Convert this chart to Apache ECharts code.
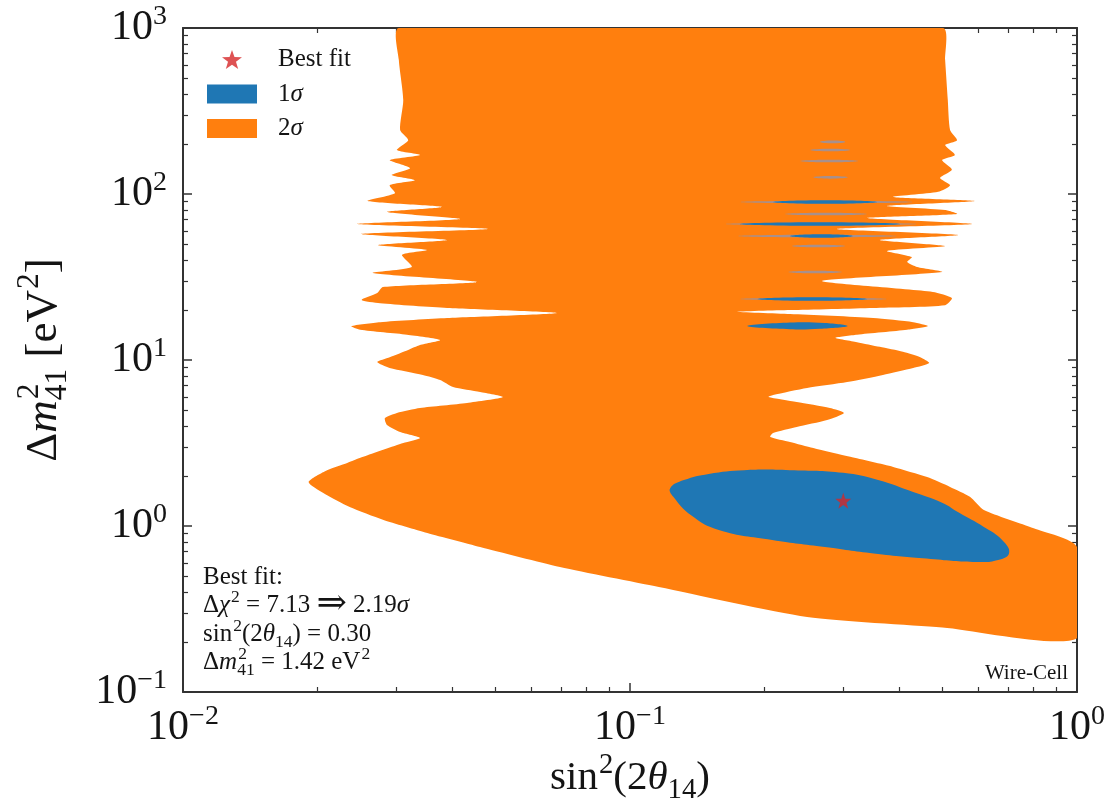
<!DOCTYPE html>
<html><head><meta charset="utf-8">
<script src="https://cdn.jsdelivr.net/npm/echarts@6/dist/echarts.min.js"></script>
<style>html,body{margin:0;padding:0;background:#fff}#c{width:1113px;height:810px}</style>
</head><body><div id="c"></div>
<script>
// ---------------- data ----------------
const xRange = [0.01, 1];
const yRange = [0.1, 1000];
// 2 sigma allowed region outline [sin^2(2theta14), dm41^2]
const orange2sigma = [
 [0.0304,1000],[0.501,1000],
 [0.507,641],[0.514,368],[0.520,243],[0.539,211],[0.507,197],[0.533,172],[0.499,160],[0.525,140],[0.494,125],[0.520,113],[0.489,103],
 [0.388,95.9],[0.591,90.7],[0.376,84.7],[0.507,80.1],[0.539,75.8],[0.339,71.7],[0.582,66.0],[0.290,61.6],[0.542,56.7],[0.362,52.9],
 [0.507,48.6],[0.376,45.4],[0.427,41.7],[0.417,38.9],[0.439,36.3],[0.499,33.9],[0.269,29.9],[0.476,25.7],[0.525,23.6],[0.507,21.4],
 [0.350,20.6],[0.228,20.0],[0.173,19.5],[0.228,18.9],[0.350,17.9],[0.430,16.9],[0.464,16.0],[0.417,15.2],[0.322,14.2],[0.288,13.6],
 [0.322,12.8],[0.362,12.0],[0.408,11.2],[0.446,10.4],[0.467,9.59],[0.430,8.95],[0.368,8.13],[0.306,7.36],[0.249,6.78],[0.209,6.15],
 [0.204,5.98],[0.236,5.58],[0.280,5.14],[0.301,4.80],[0.276,4.35],[0.236,3.95],[0.209,3.63],[0.206,3.44],[0.228,3.21],[0.257,2.95],
 [0.311,2.61],[0.388,2.27],[0.462,1.97],[0.520,1.72],[0.576,1.50],[0.619,1.25],[0.80,0.97],[1.0,0.747],
 [1.0,0.211],[0.50,0.245],[0.249,0.283],[0.116,0.429],[0.0697,0.566],[0.0462,0.747],[0.0352,0.907],[0.0280,1.09],[0.0236,1.30],[0.0206,1.58],
 [0.0191,1.84],[0.0210,2.17],[0.0233,2.40],[0.0253,2.61],[0.0311,3.16],[0.0339,3.39],[0.0306,3.68],[0.0286,4.06],[0.0283,4.47],
 [0.0301,4.80],[0.0339,5.14],[0.0432,5.51],[0.0520,5.98],[0.0462,6.42],[0.0402,6.88],[0.0376,7.58],[0.0344,8.13],[0.0290,8.95],
 [0.0272,9.72],[0.0290,10.4],[0.0319,11.5],[0.0339,12.3],[0.0376,13.2],[0.0317,14.2],[0.0249,15.2],[0.0238,16.0],[0.0276,16.9],
 [0.0390,17.9],[0.0687,19.2],[0.0390,20.6],[0.0276,22.0],[0.0251,23.0],[0.0272,25.3],[0.0280,27.5],[0.0455,29.5],[0.0266,33.4],
 [0.0325,36.3],[0.0309,43.0],[0.0352,46.0],[0.0273,49.3],[0.0390,52.9],[0.0250,57.5],[0.0481,61.6],[0.0245,66.0],[0.0417,70.7],
 [0.0286,78.0],[0.0380,83.5],[0.0259,90.7],[0.0298,101],[0.0290,113],[0.0330,121],[0.0293,130],[0.0322,143],[0.0290,160],
 [0.0339,172],[0.0301,184],[0.0319,211],[0.0306,243],[0.0311,368],[0.0304,641]
];
// 1 sigma main island
const blue1sigma = [
 [0.123,1.69],[0.132,1.89],[0.150,2.06],[0.180,2.17],[0.228,2.17],[0.300,2.09],[0.359,1.89],[0.430,1.60],[0.499,1.38],
 [0.545,1.20],[0.619,0.986],[0.680,0.824],[0.705,0.688],[0.666,0.624],[0.597,0.607],[0.471,0.633],[0.359,0.678],
 [0.273,0.747],[0.208,0.824],[0.158,0.946],[0.137,1.16],[0.125,1.50]
];
// small 1 sigma island near 16 eV^2
const blueIsland = [[0.183,16.0],[0.228,16.8],[0.273,16.7],[0.307,16.0],[0.266,15.4],[0.228,15.3]];
// thin 1 sigma streaks [sin2 left, sin2 right, dm2]
const blueStreaks = [[0.193,0.339,23.3],[0.176,0.402,66.0],[0.228,0.315,55.9],[0.209,0.357,89.5]];
const faintStreaks = [
 [0.176,0.376,23.3],[0.163,0.439,66.0],[0.174,0.396,55.9],[0.176,0.430,89.5],
 [0.266,0.303,206],[0.253,0.311,184],[0.240,0.324,158],[0.257,0.307,126],
 [0.222,0.339,75.8],[0.230,0.303,48.6],[0.226,0.298,33.9]
];
const bestFit = [[0.30, 1.42]];
const legendNames = ['Best fit', '1σ', '2σ'];
const watermark = 'Wire-Cell';

// ---------------- styling ----------------
const FONT = '"Liberation Serif", "DejaVu Serif", serif';
const INK = '#141414';
const ORANGE = '#ff7f0e', BLUE = '#1f77b4', RED = '#d62728', FAINT = '#a8908c';
const STAR = 'path://M0,-10L2.35,-3.24L9.51,-3.09L3.8,1.24L5.88,8.09L0,4L-5.88,8.09L-3.8,1.24L-9.51,-3.09L-2.35,-3.24Z';

const mctx = document.createElement('canvas').getContext('2d');
function measure(t, size, italic) { mctx.font = (italic ? 'italic ' : '') + size + 'px ' + FONT; return mctx.measureText(t).width; }
function fontOf(size, italic) { return (italic ? 'italic ' : '') + size + 'px ' + FONT; }
// lay out a math-like line: baseline at y=0, starting at x=0
function mathLine(tokens, size) {
  const ss = size * 0.7; let x = 0; const out = [];
  const put = (t, sz, it, dx, base) => out.push({ type: 'text', x: dx, y: base - 0.34 * sz,
      style: { text: t, font: fontOf(sz, it), fill: INK, align: 'left', verticalAlign: 'middle' } });
  tokens.forEach(tk => {
    const k = tk[0];
    if (k === 'n' || k === 'i') { put(tk[1], size, k === 'i', x, 0); x += measure(tk[1], size, k === 'i'); }
    else if (k === 'w') { const bs = size * tk[2]; put(tk[1], bs, false, x, 0.25 * (bs - size)); x += measure(tk[1], bs); }
    else if (k === 'sup') { put(tk[1], ss, false, x + 1, -0.42 * size); x += measure(tk[1], ss) + 1; }
    else if (k === 'sub') { put(tk[1], ss, false, x, 0.2 * size); x += measure(tk[1], ss); }
    else if (k === 'supsub') { put(tk[1], ss, false, x + 1, -0.42 * size); put(tk[2], ss, false, x, 0.2 * size);
      x += Math.max(measure(tk[1], ss) + 1, measure(tk[2], ss)); }
  });
  return { out, width: x };
}
function mathGroup(tokens, size, x, y, opts) {
  opts = opts || {};
  const m = mathLine(tokens, size);
  const shift = opts.align === 'center' ? -m.width / 2 : (opts.align === 'right' ? -m.width : 0);
  m.out.forEach(e => e.x += shift);
  return { type: 'group', x, y, rotation: opts.rotation || 0, z: 100, children: m.out };
}

function expLabel(v) {
  const e = Math.round(Math.log10(v));
  return '{b|10}{s|' + (e < 0 ? '\u2212' + (-e) : e) + '}';
}
const labelRich = {
  b: { fontFamily: FONT, fontSize: 42, lineHeight: 50, color: INK },
  s: { fontFamily: FONT, fontSize: 28, lineHeight: 28, verticalAlign: 'top', color: INK }
};
const frameLine = { show: true, lineStyle: { color: '#333', width: 2 } };
const tick = { show: true, inside: true, length: 9, lineStyle: { color: '#333', width: 1.5 } };
const minor = { show: true, splitNumber: 9, length: 5, lineStyle: { color: '#333', width: 1.2 } };

function polygonSeries(name, pts, color, smooth, z) {
  return {
    type: 'custom', name, coordinateSystem: 'cartesian2d', silent: true, z, clip: true,
    data: pts, encode: { x: 0, y: 1 }, itemStyle: { color },
    renderItem(params, api) {
      if (params.dataIndex !== 0) return null;
      const cs = params.coordSys;
      return { type: 'polygon',
        shape: { points: pts.map(p => api.coord(p)), smooth,
                 smoothConstraint: [[cs.x, cs.y], [cs.x + cs.width, cs.y + cs.height]] },
        style: { fill: color } };
    }
  };
}
function streakSeries(name, rows, color, half, z) {
  return {
    type: 'custom', name, coordinateSystem: 'cartesian2d', silent: true, z, clip: true,
    data: rows, encode: { x: [0, 1], y: 2 },
    renderItem(params, api) {
      const a = api.coord([api.value(0), api.value(2)]);
      const b = api.coord([api.value(1), api.value(2)]);
      const mx = (a[0] + b[0]) / 2;
      return { type: 'polygon', shape: { points: [a, [mx, a[1] - half], b, [mx, a[1] + half]], smooth: 0.5 },
               style: { fill: color } };
    }
  };
}

const chart = echarts.init(document.getElementById('c'), null, { renderer: 'canvas' });
const option = {
  animation: false,
  backgroundColor: '#fff',
  grid: { left: 183, right: 36, top: 28, bottom: 118, containLabel: false, outerBoundsMode: 'none' },
  xAxis: [
    { type: 'log', logBase: 10, min: xRange[0], max: xRange[1], position: 'bottom',
      axisLine: frameLine, axisTick: tick, minorTick: minor, splitLine: { show: false },
      axisLabel: { show: true, margin: 11, formatter: expLabel, rich: labelRich, showMinLabel: true, showMaxLabel: true, hideOverlap: false } },
    { type: 'log', logBase: 10, min: xRange[0], max: xRange[1], position: 'top',
      axisLine: frameLine, axisTick: tick, minorTick: minor, splitLine: { show: false }, axisLabel: { show: false } }
  ],
  yAxis: [
    { type: 'log', logBase: 10, min: yRange[0], max: yRange[1], position: 'left',
      axisLine: frameLine, axisTick: tick, minorTick: minor, splitLine: { show: false },
      axisLabel: { show: true, margin: 16, formatter: expLabel, rich: labelRich, showMinLabel: true, showMaxLabel: true, hideOverlap: false } },
    { type: 'log', logBase: 10, min: yRange[0], max: yRange[1], position: 'right',
      axisLine: frameLine, axisTick: tick, minorTick: minor, splitLine: { show: false }, axisLabel: { show: false } }
  ],
  legend: {
    orient: 'vertical', left: 202, top: 42, itemWidth: 50, itemHeight: 19, itemGap: 9.5,
    selectedMode: false,
    data: [{ name: legendNames[0], icon: STAR }, { name: legendNames[1], icon: 'rect' }, { name: legendNames[2], icon: 'rect' }],
    formatter: n => n.indexOf('σ') >= 0 ? '{r|' + n.replace('σ', '') + '}{g|σ}' : '{r|' + n + '}',
    textStyle: { padding: [0, 0, 0, 16], lineHeight: 19, rich: {
      r: { fontFamily: FONT, fontSize: 25, lineHeight: 19, color: INK },
      g: { fontFamily: FONT, fontSize: 25, lineHeight: 19, fontStyle: 'italic', color: INK } } }
  },
  series: [
    polygonSeries(legendNames[2], orange2sigma, ORANGE, 0.22, 2),
    polygonSeries(legendNames[1], blue1sigma, BLUE, 0.45, 3),
    polygonSeries('island', blueIsland, BLUE, 0.4, 3),
    streakSeries('faint', faintStreaks, FAINT, 1.3, 3),
    streakSeries('streak', blueStreaks, BLUE, 1.8, 4),
    { type: 'scatter', name: legendNames[0], data: bestFit, symbol: STAR, symbolSize: 16, z: 10,
      itemStyle: { color: RED }, silent: true }
  ],
  graphic: [
    mathGroup([['n', 'sin'], ['sup', '2'], ['n', '(2'], ['i', 'θ'], ['sub', '14'], ['n', ')']], 41, 630, 792, { align: 'center' }),
    mathGroup([['n', 'Δ'], ['i', 'm'], ['supsub', '2', '41'], ['n', ' [eV'], ['sup', '2'], ['n', ']']], 45, 59, 360, { align: 'center', rotation: Math.PI / 2 }),
    mathGroup([['n', 'Best fit:']], 25, 203, 586),
    mathGroup([['n', 'Δ'], ['i', 'χ'], ['sup', '2'], ['n', ' = 7.13 '], ['w', '⇒', 1.45], ['n', ' 2.19'], ['i', 'σ']], 25, 203, 614),
    mathGroup([['n', 'sin'], ['sup', '2'], ['n', '(2'], ['i', 'θ'], ['sub', '14'], ['n', ') = 0.30']], 25, 203, 643),
    mathGroup([['n', 'Δ'], ['i', 'm'], ['supsub', '2', '41'], ['n', ' = 1.42 eV'], ['sup', '2']], 25, 203, 671),
    mathGroup([['n', watermark]], 21, 1068, 681, { align: 'right' })
  ]
};
chart.setOption(option);
</script>
</body></html>
